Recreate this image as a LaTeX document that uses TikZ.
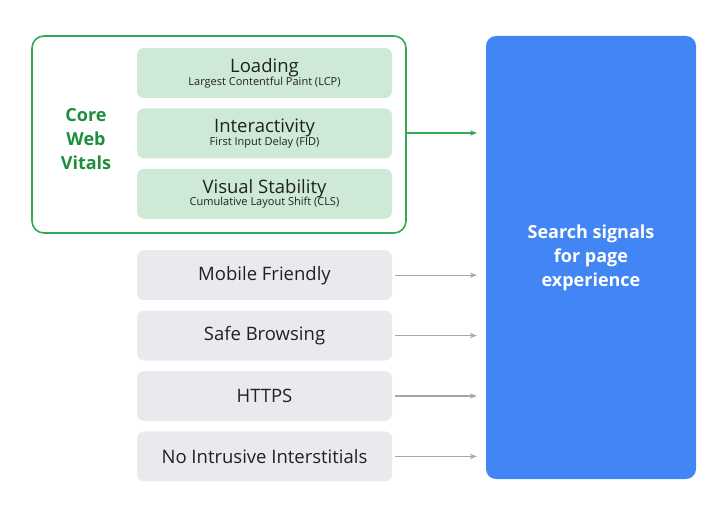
\documentclass[tikz,border=0pt]{standalone}
\usepackage{fontspec}
\setmainfont{Open Sans}
\usetikzlibrary{arrows.meta, positioning}
\definecolor{cwvgreen}{HTML}{34A853}
\definecolor{cwvtext}{HTML}{1E8E3E}
\definecolor{lightgreen}{HTML}{CEEAD6}
\definecolor{lightgray}{HTML}{E8EAED}
\definecolor{signalblue}{HTML}{4285F4}
\definecolor{darktext}{HTML}{202124}
\begin{document}
\begin{tikzpicture}[x=1pt, y=-1pt,
        box/.style={rounded corners=7pt, minimum width=255pt, minimum height=50pt,
            text=darktext, align=center, inner sep=0pt},
        vital/.style={box, fill=lightgreen},
        signal/.style={box, fill=lightgray, font=\fontsize{18.5}{20}\selectfont},
        >={Stealth[length=7pt]}]
        \useasboundingbox (0,0) rectangle (716,508);
        \draw[cwvgreen, line width=1.6pt, rounded corners=12pt] (32,36) rectangle (406,233);
        \node[vital] (load) at (264.5,73) {{\fontsize{18.5}{20}\selectfont Loading}\\[-1pt]{\fontsize{11}{13}\selectfont Largest Contentful Paint (LCP)}};
        \node[vital, below=10pt of load] (inter) {{\fontsize{18.5}{20}\selectfont Interactivity}\\[-1pt]{\fontsize{11}{13}\selectfont First Input Delay (FID)}};
        \node[vital, below=10pt of inter] (visual) {{\fontsize{18.5}{20}\selectfont Visual Stability}\\[-1pt]{\fontsize{11}{13}\selectfont Cumulative Layout Shift (CLS)}};
        \node[text=cwvtext, font=\bfseries\fontsize{18}{24}\selectfont, align=center] (core) at (86,139) {Core\\Web\\Vitals};
        \node[signal, below=31pt of visual] (mobile) {Mobile Friendly};
        \node[signal, below=10pt of mobile] (safe) {Safe Browsing};
        \node[signal, below=10pt of safe] (https) {HTTPS};
        \node[signal, below=10pt of https] (nointr) {No Intrusive Interstitials};
        \node[fill=signalblue, rounded corners=10pt, minimum width=210pt, minimum height=443pt,
            text=white, font=\bfseries\fontsize{18}{24}\selectfont, align=center] (search) at (591,257.5)
            {Search signals\\for page\\experience};
        \coordinate (cwvout) at (406,133);
        \coordinate (cwvin) at (477,133);
        \draw[->, cwvgreen, line width=1.6pt] (cwvout) -- (cwvin);
        \foreach \s in {mobile, safe, https, nointr}
            \draw[->, gray!70, line width=1.2pt] ([xshift=3pt]\s.east) -- ([xshift=-9pt]\s.east -| search.west);
\end{tikzpicture}
\end{document}
